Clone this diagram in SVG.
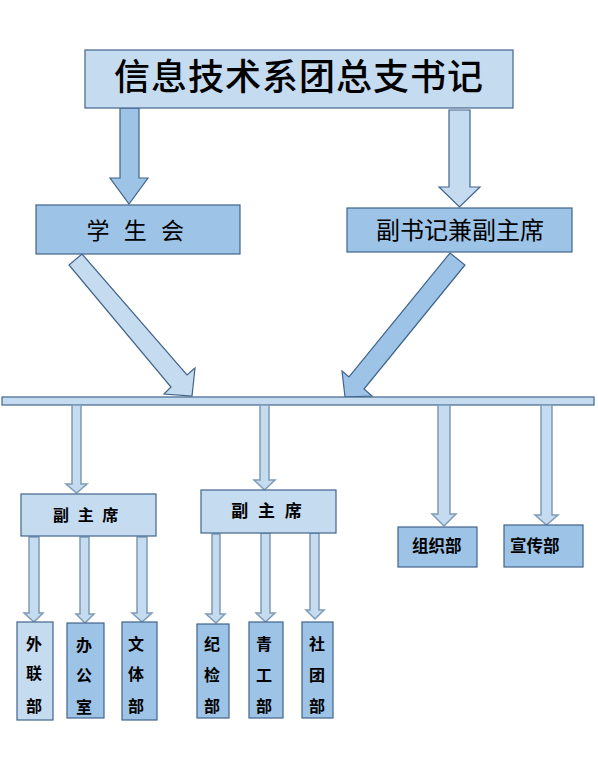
<svg xmlns="http://www.w3.org/2000/svg" width="598" height="759" viewBox="0 0 598 759">
<style>
text{font-family:"Noto Sans CJK SC","Noto Sans",sans-serif;fill:#000;}
.lt{fill:#C5DBF0;stroke:#41648A;stroke-width:1.2;}
.dk{fill:#9DC3E6;stroke:#41648A;stroke-width:1.2;}
.va{fill:#C5DBF0;stroke:#7F9BB5;stroke-width:1.5;}
.sm{font-size:16px;font-weight:bold;text-anchor:middle;}
</style>
<rect width="598" height="759" fill="#fff"/>
<g id="connectors">
<polygon class="dk" points="120,108 139,108 139,178 148,178 129,204 110,178 120,178"/>
<polygon class="lt" points="449,110 470,110 470,187 480,187 459.5,207 439,187 449,187"/>
<polygon class="lt" points="82,254 187,375 195,368 192,396 164,394 171,387 69,265"/>
<polygon class="dk" points="450,253 465,265 364,389 372,396 345,397 342,371 349,377"/>
<rect class="lt" x="2" y="397" width="592" height="8"/>
<polygon class="va" points="72,405 81,405 81,484 87,484 76.5,493 66,484 72,484"/>
<polygon class="va" points="260,405 269,405 269,480 275,480 264.5,490 254,480 260,480"/>
<polygon class="va" points="438,405 450,405 450,514 456,514 444,526 432,514 438,514"/>
<polygon class="va" points="541,405 552,405 552,515 558,515 546.5,525 535,515 541,515"/>
<polygon class="va" points="29,537 39,537 39,613 43,613 34,622 24,613 29,613"/>
<polygon class="va" points="80,537 89,537 89,614 94,614 85,623 76,614 80,614"/>
<polygon class="va" points="137,537 147,537 147,613 152,613 142,622 132,613 137,613"/>
<polygon class="va" points="212,534 220,534 220,614 225,614 216,623 206,614 212,614"/>
<polygon class="va" points="261,533 270,533 270,613 275,613 265.5,622 256,613 261,613"/>
<polygon class="va" points="310,533 319,533 319,610 324,610 315,619 306,610 310,610"/>
</g>
<g id="n-top">
<rect class="lt" x="85" y="50" width="428" height="58"/>
<text x="299" y="90" font-size="36" font-weight="500" text-anchor="middle" letter-spacing="1">信息技术系团总支书记</text>
</g>
<g id="n-xsh">
<rect class="dk" x="36" y="205" width="204" height="49"/>
<text x="137.5" y="239" font-size="23" text-anchor="middle" letter-spacing="4.5" xml:space="preserve">学 生 会</text>
</g>
<g id="n-fsj">
<rect class="dk" x="347" y="208" width="225" height="44"/>
<text x="460" y="239" font-size="24" text-anchor="middle">副书记兼副主席</text>
</g>
<g id="n-fzx1">
<rect class="lt" x="21" y="494" width="135" height="42"/>
<text x="87" y="521" font-size="16" font-weight="bold" text-anchor="middle" letter-spacing="2.5" xml:space="preserve">副 主 席</text>
</g>
<g id="n-fzx2">
<rect class="lt" x="201" y="490" width="135" height="43"/>
<text x="268" y="517" font-size="17" font-weight="bold" text-anchor="middle" letter-spacing="3" xml:space="preserve">副 主 席</text>
</g>
<g id="n-zzb">
<rect class="dk" x="398" y="527" width="79" height="40"/>
<text x="412" y="552" font-size="16.5" font-weight="bold">组织部</text>
</g>
<g id="n-xcb">
<rect class="dk" x="504" y="525" width="79" height="42"/>
<text x="510" y="552" font-size="16.5" font-weight="bold">宣传部</text>
</g>
<g id="n-wlb">
<rect class="lt" x="17" y="622" width="36" height="98"/>
<text class="sm" x="34"><tspan x="34" y="650">外</tspan><tspan x="34" y="679">联</tspan><tspan x="34" y="712">部</tspan></text>
</g>
<g id="n-bgs">
<rect class="dk" x="67" y="623" width="37" height="95"/>
<text class="sm" x="84"><tspan x="84" y="651">办</tspan><tspan x="84" y="681">公</tspan><tspan x="84" y="713">室</tspan></text>
</g>
<g id="n-wtb">
<rect class="dk" x="122" y="622" width="35" height="98"/>
<text class="sm" x="136"><tspan x="136" y="650">文</tspan><tspan x="136" y="680">体</tspan><tspan x="136" y="712">部</tspan></text>
</g>
<g id="n-jjb">
<rect class="dk" x="197" y="624" width="32" height="94"/>
<text class="sm" x="212"><tspan x="212" y="650">纪</tspan><tspan x="212" y="681">检</tspan><tspan x="212" y="712">部</tspan></text>
</g>
<g id="n-qgb">
<rect class="dk" x="249" y="622" width="34" height="96"/>
<text class="sm" x="264"><tspan x="264" y="650">青</tspan><tspan x="264" y="681">工</tspan><tspan x="264" y="712">部</tspan></text>
</g>
<g id="n-stb">
<rect class="dk" x="302" y="622" width="31" height="96"/>
<text class="sm" x="317"><tspan x="317" y="650">社</tspan><tspan x="317" y="681">团</tspan><tspan x="317" y="712">部</tspan></text>
</g>
</svg>
